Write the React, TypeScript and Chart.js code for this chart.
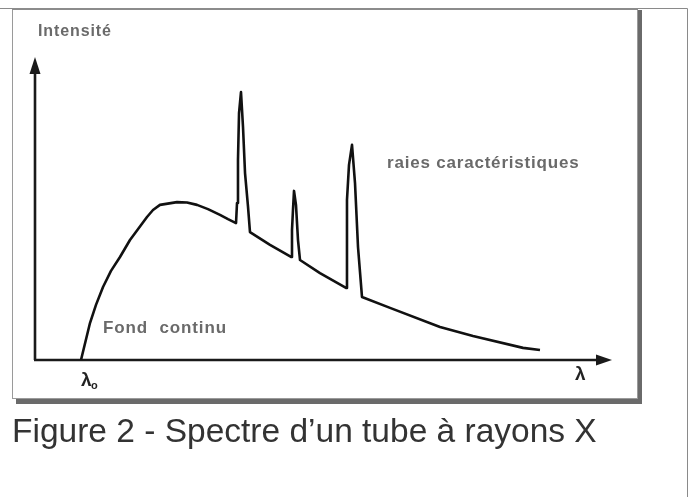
import React, { useEffect, useRef } from "react";
import { Chart, registerables } from "chart.js";

Chart.register(...registerables);

// Wavelength (arbitrary units, λ axis) and intensity (arbitrary units)
const wavelength = [
  7.97, 9.53, 10.57, 11.79, 13.17, 14.73, 16.46, 19.41, 20.45, 21.66, 24.61,
  26.34, 28.08, 29.98, 32.06, 33.45, 34.84,
  35.01, 35.18, 35.36, 35.7, 36.05, 36.4, 36.92, 37.26, 40.73, 44.37,
  44.54, 44.71, 44.89, 45.23, 45.58, 45.93, 49.39, 53.9,
  54.07, 54.42, 54.94, 55.46, 55.98, 56.67, 61.53, 70.19, 75.91, 84.58, 87.52,
];
const intensity = [
  0, 12.2, 18.2, 24.1, 29.4, 34.0, 39.6, 47.2, 49.5, 51.2, 52.1,
  52.0, 51.2, 49.8, 47.9, 46.5, 45.2,
  51.8, 66.0, 81.5, 88.4, 76.9, 61.7, 50.5, 42.2, 38.0, 34.0,
  42.9, 49.5, 55.8, 51.2, 39.6, 33.0, 28.7, 23.8,
  52.8, 64.4, 71.0, 58.4, 37.3, 20.8, 17.2, 10.9, 7.9, 4.0, 3.3,
];

const axisTitles = ["Intensité", "λ"];
const lambdaZero = ["λ", "o"];
const annotations = ["Fond  continu", "raies caractéristiques"];
const caption = "Figure 2 - Spectre d’un tube à rayons X";

const decorPlugin = {
  id: "decor",
  beforeDatasetsDraw(chart: any) {
    const ctx = chart.ctx as CanvasRenderingContext2D;
    const { left, right, top, bottom } = chart.chartArea;
    ctx.save();
    // outer page frame
    ctx.strokeStyle = "#8a8a8a";
    ctx.lineWidth = 1;
    ctx.beginPath();
    ctx.moveTo(0, 8.5);
    ctx.lineTo(687.5, 8.5);
    ctx.lineTo(687.5, 497);
    ctx.stroke();
    // inner box
    ctx.strokeStyle = "#9a9a9a";
    ctx.strokeRect(12.5, 9.5, 625, 389);
    ctx.fillStyle = "#8c8c8c";
    ctx.fillRect(12, 8, 626, 2);
    // shadow
    ctx.fillStyle = "#6a6a6a";
    ctx.fillRect(638, 10, 4, 394);
    ctx.fillRect(16, 399, 626, 5);

    // axes
    ctx.strokeStyle = "#1a1a1a";
    ctx.fillStyle = "#1a1a1a";
    ctx.lineWidth = 2.6;
    ctx.beginPath();
    ctx.moveTo(left, bottom);
    ctx.lineTo(left, top + 14);
    ctx.moveTo(left - 1, bottom);
    ctx.lineTo(right - 14, bottom);
    ctx.stroke();
    // arrow heads
    ctx.beginPath();
    ctx.moveTo(left, top);
    ctx.lineTo(left - 5.5, top + 17);
    ctx.lineTo(left + 5.5, top + 17);
    ctx.closePath();
    ctx.fill();
    ctx.beginPath();
    ctx.moveTo(right, bottom);
    ctx.lineTo(right - 16, bottom - 5.5);
    ctx.lineTo(right - 16, bottom + 5.5);
    ctx.closePath();
    ctx.fill();
    ctx.restore();
  },
  afterDraw(chart: any) {
    const ctx = chart.ctx as CanvasRenderingContext2D;
    const xs = chart.scales.x;
    const { left, right, bottom } = chart.chartArea;
    ctx.save();
    ctx.textBaseline = "alphabetic";
    ctx.textAlign = "left";
    ctx.fillStyle = "#6a6a6a";
    (ctx as any).letterSpacing = "0.9px";
    ctx.font = "bold 16px 'Liberation Sans', Arial, sans-serif";
    ctx.fillText(axisTitles[0], left + 3, 36);
    ctx.font = "bold 17px 'Liberation Sans', Arial, sans-serif";
    ctx.fillText(annotations[0], 103, 333);
    (ctx as any).letterSpacing = "0.8px";
    ctx.fillText(annotations[1], 387, 168);

    // lambda labels
    (ctx as any).letterSpacing = "0px";
    ctx.fillStyle = "#222";
    ctx.font = "bold 19px 'Liberation Sans', Arial, sans-serif";
    const x0 = xs.getPixelForValue(wavelength[0]);
    ctx.fillText(lambdaZero[0], x0, bottom + 26);
    ctx.font = "bold 11px 'Liberation Sans', Arial, sans-serif";
    ctx.fillText(lambdaZero[1], x0 + 10, bottom + 29);
    ctx.font = "bold 19px 'Liberation Sans', Arial, sans-serif";
    ctx.fillText(axisTitles[1], right - 37, bottom + 20);

    // caption
    ctx.fillStyle = "#333";
    ctx.font = "33.5px 'Liberation Sans', Arial, sans-serif";
    ctx.fillText(caption, 12, 442);
    ctx.restore();
  },
};

export default function App() {
  const canvasRef = useRef<HTMLCanvasElement | null>(null);

  useEffect(() => {
    if (!canvasRef.current) return;
    const points = wavelength.map((x, i) => ({ x, y: intensity[i] }));
    const chart = new Chart(canvasRef.current, {
      type: "line",
      data: {
        datasets: [
          {
            data: points,
            borderColor: "#111",
            borderWidth: 2.6,
            borderJoinStyle: "round",
            pointRadius: 0,
            tension: 0,
            fill: false,
          },
        ],
      },
      options: {
        responsive: false,
        animation: false,
        devicePixelRatio: 1,
        layout: { padding: { left: 35, right: 80, top: 57, bottom: 137 } },
        scales: {
          x: { type: "linear", min: 0, max: 100, display: false },
          y: { type: "linear", min: 0, max: 100, display: false },
        },
        plugins: {
          legend: { display: false },
          tooltip: { enabled: false },
          title: { display: false },
        },
      },
      plugins: [decorPlugin],
    });
    return () => chart.destroy();
  }, []);

  return (
    <div style={{ position: "absolute", left: 0, top: 0, width: 692, height: 497, background: "#fff" }}>
      <canvas ref={canvasRef} width={692} height={497} style={{ display: "block" }} />
    </div>
  );
}
